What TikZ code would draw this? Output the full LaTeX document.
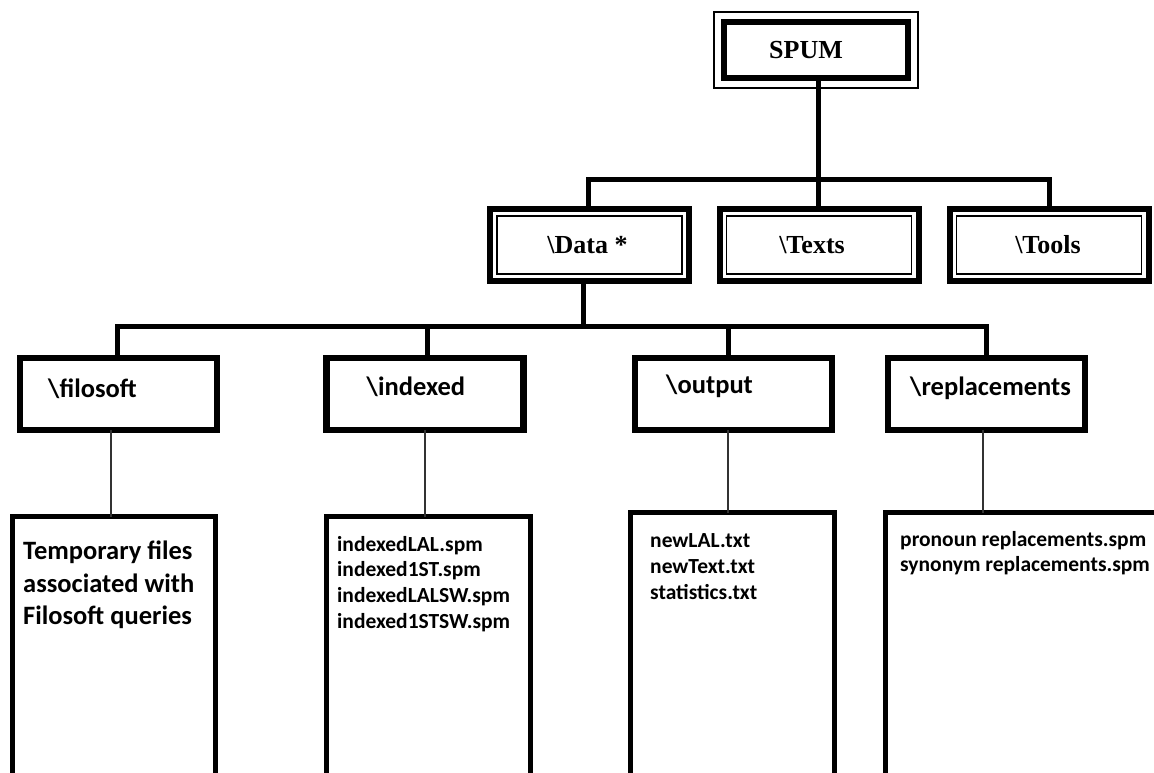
\documentclass[tikz,border=0pt]{standalone}
\usepackage{fontspec}
\setmainfont{Liberation Serif}
\newfontfamily\calfont{Carlito}
\begin{document}
\begin{tikzpicture}[x=1pt,y=-1pt,
  line join=miter,
  topbox/.style={draw, line width=6pt, minimum width=184pt, minimum height=56pt,
    inner sep=0pt, outer sep=0pt, font=\fontsize{26}{30}\selectfont\bfseries},
  dirbox/.style={draw, line width=6pt, minimum width=199pt, minimum height=72pt,
    inner sep=0pt, outer sep=0pt, font=\fontsize{26}{30}\selectfont\bfseries},
  subbox/.style={draw, line width=6.5pt, minimum width=197pt, minimum height=72pt,
    inner sep=0pt, outer sep=0pt},
  filebox/.style={draw, line width=5.5pt, minimum height=320pt, anchor=north,
    inner sep=0pt, outer sep=0pt},
  sublabel/.style={anchor=base west, inner sep=0pt, font=\calfont\bfseries\fontsize{26.5}{32}\selectfont},
  bigfiles/.style={anchor=north west, inner sep=0pt, align=left,
    font=\calfont\bfseries\fontsize{26.5}{32.5}\selectfont},
  files/.style={anchor=north west, inner sep=0pt, align=left,
    font=\calfont\bfseries\fontsize{21.5}{25.7}\selectfont},
  thinframe/.style={draw, line width=1.2pt},
  conn/.style={draw, line width=5pt},
  leaf/.style={draw, line width=1.3pt, black!80}]

\clip (0,0) rectangle (1154,772);
\fill[white] (0,0) rectangle (1154,772);

% root
\node[topbox] (spum) at (816,50) {SPUM\hspace*{20pt}};
\draw[thinframe] ([shift={(-10pt,10pt)}]spum.north west) rectangle ([shift={(10pt,-10pt)}]spum.south east);

% first level folders
\node[dirbox] (data)  at (589.5,245) {\textbackslash Data *\hspace*{4pt}};
\node[dirbox] (texts) at (819,245) {\textbackslash Texts\hspace*{14pt}};
\node[dirbox] (tools) at (1049,245) {\textbackslash Tools\hspace*{2pt}};
\foreach \n in {data,texts,tools}
  \draw[thinframe] ([shift={(7pt,-7pt)}]\n.north west) rectangle ([shift={(-7pt,7pt)}]\n.south east);

\coordinate (bus1) at (0,179);
\draw[conn] ([xshift=2pt]spum.south) -- ([xshift=2pt]spum.south |- texts.north);
\draw[conn] ([xshift=-1.5pt]data.north) |- (bus1 -| tools.north) -- (tools.north);

% second level folders
\node[subbox] (filosoft) at (118.5,394) {};
\node[subbox] (indexed)  at (425,394) {};
\node[subbox] (output)   at (733.5,394) {};
\node[subbox] (repl)     at (986.5,394) {};
\node[sublabel] at ([xshift=28pt,yshift=-3pt]filosoft.west) {\textbackslash filosoft};
\node[sublabel] at ([xshift=40pt,yshift=-1pt]indexed.west) {\textbackslash indexed};
\node[sublabel] at ([xshift=31pt,yshift=1pt]output.west) {\textbackslash output};
\node[sublabel] at ([xshift=22pt,yshift=-1pt]repl.west) {\textbackslash replacements};

\coordinate (bus2) at (0,326);
\draw[conn] ([xshift=-6.5pt]data.south) -- ([xshift=-6.5pt]data.south |- bus2);
\draw[conn] ([xshift=-1.5pt]filosoft.north) |- (bus2 -| repl.north) -- (repl.north);
\draw[conn] ([xshift=2pt]indexed.north) -- ([xshift=2pt]indexed.north |- bus2);
\draw[conn] ([xshift=-5.5pt]output.north) -- ([xshift=-5.5pt]output.north |- bus2);

% file lists
\node[filebox, minimum width=203pt] (filofiles) at (114,516.5) {};
\node[filebox, minimum width=204pt] (idxfiles)  at (428.5,516.5) {};
\node[filebox, minimum width=204pt] (outfiles)  at (732.5,512.5) {};
\node[filebox, minimum width=300pt] (replfiles) at (1035.5,512.5) {};

\node[bigfiles] (filotext) at (23,541) {Temporary files\\associated with\\Filosoft queries};
\node[files] (idxtext) at (337,536) {indexedLAL.spm\\indexed1ST.spm\\indexedLALSW.spm\\indexed1STSW.spm};
\node[files] (outtext) at (650,533.5) {newLAL.txt\\newText.txt\\statistics.txt};
\node[files] (repltext) at (900,531) {pronoun replacements.spm\\synonym replacements.spm};

\draw[leaf] ([xshift=-7.5pt]filosoft.south) -- ([xshift=-7.5pt]filosoft.south |- filofiles.north);
\draw[leaf] (indexed.south) -- (indexed.south |- idxfiles.north);
\draw[leaf] ([xshift=-5.5pt]output.south) -- ([xshift=-5.5pt]output.south |- outfiles.north);
\draw[leaf] ([xshift=-3.5pt]repl.south) -- ([xshift=-3.5pt]repl.south |- replfiles.north);
\end{tikzpicture}
\end{document}
